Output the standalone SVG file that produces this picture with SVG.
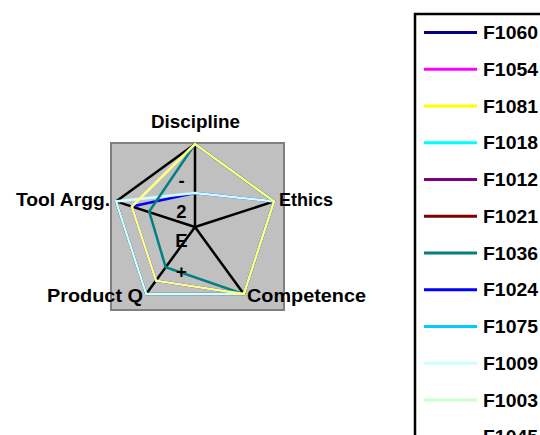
<svg xmlns="http://www.w3.org/2000/svg" width="540" height="435" viewBox="0 0 540 435">
<style>
text{font-family:"Liberation Sans",Arial,sans-serif;font-weight:bold;font-size:18.5px;fill:#000}
.ax{stroke:#000;stroke-width:2.5;fill:none}
.s{fill:none;stroke-width:2.5;stroke-linejoin:miter}
.lg{stroke-width:3}
</style>
<rect width="540" height="435" fill="#fff"/>
<g id="plot-area">
<rect x="111" y="143" width="173" height="167" fill="#C0C0C0" stroke="#808080" stroke-width="2"/>
</g>
<g id="connectors">
<g id="axes">
<line class="ax" x1="195" y1="227" x2="195" y2="144"/>
<line class="ax" x1="195" y1="227" x2="274" y2="201.4"/>
<line class="ax" x1="195" y1="227" x2="243.8" y2="294.1"/>
<line class="ax" x1="195" y1="227" x2="146.2" y2="294.1"/>
<line class="ax" x1="195" y1="227" x2="116" y2="201.4"/>
</g>
<polygon class="s" stroke="#000" points="195,144 274,201.4 243.8,294.1 146.2,294.1 116,201.4"/>
<polygon class="s" stroke="#0000FF" points="195,193 274,201.4 243.8,294.1 156,280.7 131.8,206.5"/>
<polygon class="s" stroke="#CCFFFF" points="195,193 274,201.4 243.8,294.1 146.2,294.1 116,201.4"/>
<polygon class="s" stroke="#008080" points="195,144 274,201.4 243.8,294.1 165.7,267.3 149.2,211.5"/>
<polygon class="s" stroke="#FFFF88" points="195,144 274,201.4 243.8,294.1 156,280.7 131.8,206.5"/>
</g>
<g id="tick-labels">
<text x="181.5" y="187" text-anchor="middle">-</text>
<text x="181.5" y="217.5" text-anchor="middle">2</text>
<text x="181.5" y="247" text-anchor="middle">E</text>
<text x="181.5" y="277.5" text-anchor="middle">+</text>
</g>
<g id="axis-labels">
<g id="discipline"><text x="151" y="127.5" textLength="89" lengthAdjust="spacingAndGlyphs">Discipline</text></g>
<g id="ethics"><text x="279" y="206" textLength="54" lengthAdjust="spacingAndGlyphs">Ethics</text></g>
<g id="competence"><text x="247" y="302" textLength="119" lengthAdjust="spacingAndGlyphs">Competence</text></g>
<g id="product-q"><text x="47" y="302" textLength="96" lengthAdjust="spacingAndGlyphs">Product Q</text></g>
<g id="tool-argg"><text x="16" y="206" textLength="94" lengthAdjust="spacingAndGlyphs">Tool Argg.</text></g>
</g>
<g id="legend">
<rect x="415" y="14" width="140" height="440" fill="#fff" stroke="#000" stroke-width="2.5"/>
<g id="lg-F1060"><line class="lg" x1="424" x2="477" y1="32.5" y2="32.5" stroke="#000080"/><text x="483" y="39" textLength="55" lengthAdjust="spacingAndGlyphs">F1060</text></g>
<g id="lg-F1054"><line class="lg" x1="424" x2="477" y1="69.2" y2="69.2" stroke="#FF00FF"/><text x="483" y="75.7" textLength="55" lengthAdjust="spacingAndGlyphs">F1054</text></g>
<g id="lg-F1081"><line class="lg" x1="424" x2="477" y1="106" y2="106" stroke="#FFFF00"/><text x="483" y="112.5" textLength="55" lengthAdjust="spacingAndGlyphs">F1081</text></g>
<g id="lg-F1018"><line class="lg" x1="424" x2="477" y1="142.7" y2="142.7" stroke="#00FFFF"/><text x="483" y="149.2" textLength="55" lengthAdjust="spacingAndGlyphs">F1018</text></g>
<g id="lg-F1012"><line class="lg" x1="424" x2="477" y1="179.5" y2="179.5" stroke="#800080"/><text x="483" y="186" textLength="55" lengthAdjust="spacingAndGlyphs">F1012</text></g>
<g id="lg-F1021"><line class="lg" x1="424" x2="477" y1="216.2" y2="216.2" stroke="#800000"/><text x="483" y="222.7" textLength="55" lengthAdjust="spacingAndGlyphs">F1021</text></g>
<g id="lg-F1036"><line class="lg" x1="424" x2="477" y1="253" y2="253" stroke="#008080"/><text x="483" y="259.5" textLength="55" lengthAdjust="spacingAndGlyphs">F1036</text></g>
<g id="lg-F1024"><line class="lg" x1="424" x2="477" y1="289.7" y2="289.7" stroke="#0000FF"/><text x="483" y="296.2" textLength="55" lengthAdjust="spacingAndGlyphs">F1024</text></g>
<g id="lg-F1075"><line class="lg" x1="424" x2="477" y1="326.5" y2="326.5" stroke="#00CCFF"/><text x="483" y="333" textLength="55" lengthAdjust="spacingAndGlyphs">F1075</text></g>
<g id="lg-F1009"><line class="lg" x1="424" x2="477" y1="363.2" y2="363.2" stroke="#CCFFFF"/><text x="483" y="369.7" textLength="55" lengthAdjust="spacingAndGlyphs">F1009</text></g>
<g id="lg-F1003"><line class="lg" x1="424" x2="477" y1="400" y2="400" stroke="#CCFFCC"/><text x="483" y="406.5" textLength="55" lengthAdjust="spacingAndGlyphs">F1003</text></g>
<g id="lg-F1045"><line class="lg" x1="424" x2="477" y1="436.7" y2="436.7" stroke="#FFCC99"/><text x="483" y="443.2" textLength="55" lengthAdjust="spacingAndGlyphs">F1045</text></g>
</g>
</svg>
